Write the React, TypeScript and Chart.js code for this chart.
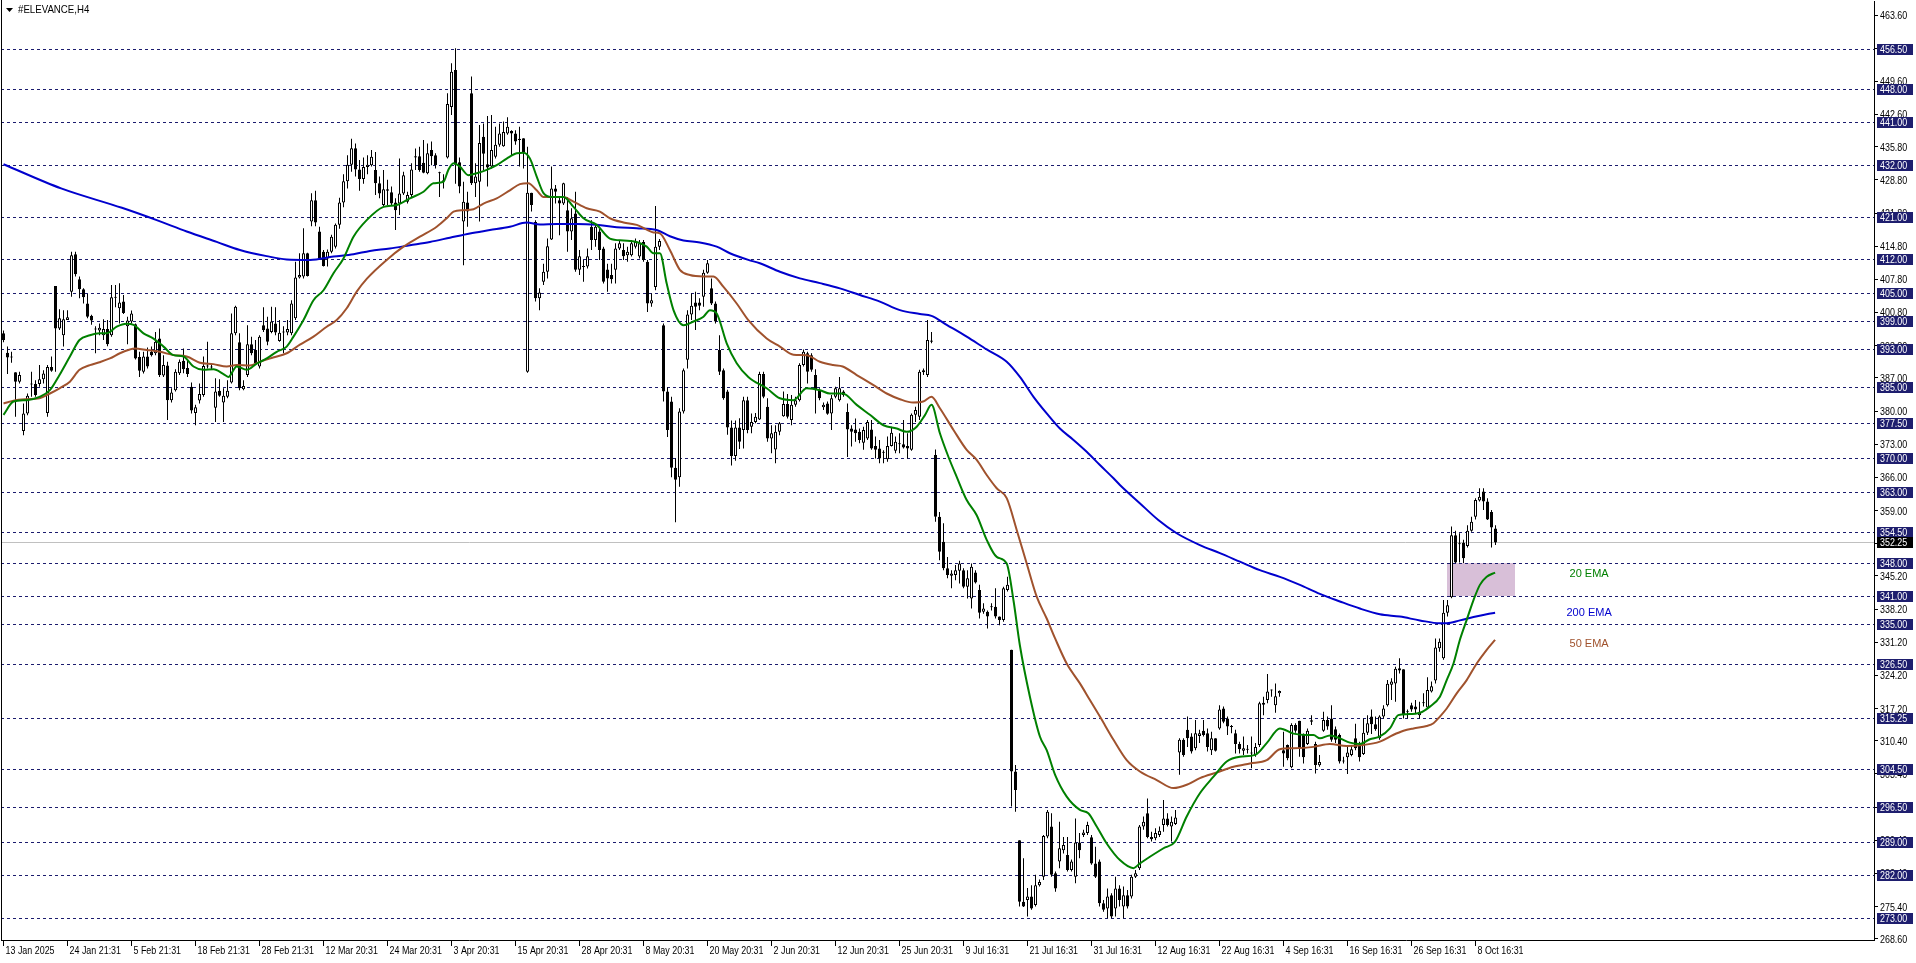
import React, { useEffect, useRef } from "react";
import { Chart, registerables } from "chart.js";

Chart.register(...registerables);

const FAMILY = '"Liberation Sans", Arial, sans-serif';

// ---------- H4 candles (bar 0 = 13 Jan 2025) ----------
const OPEN = [
  396.4, 392.3, 391.3, 388.2, 386.2, 375.8, 379.5, 385.6, 385.7, 385.7,
  386.7, 379.6, 389.3, 406.4, 397.4, 396.0, 399.2, 405.2, 413.1, 407.8,
  405.7, 402.7, 400.1, 397.2, 397.0, 396.0, 397.3, 396.0, 404.0, 401.7,
  403.1, 397.9, 398.9, 398.3, 391.4, 388.3, 391.5, 392.5, 392.2, 395.3,
  387.5, 389.6, 382.3, 384.4, 388.0, 390.6, 389.1, 385.1, 379.6, 382.2,
  383.4, 389.4, 389.2, 380.7, 384.3, 381.8, 383.0, 386.0, 396.4, 394.5,
  384.6, 387.6, 394.1, 392.9, 389.4, 398.1, 397.4, 396.7, 398.5, 394.8,
  396.6, 396.6, 396.4, 399.6, 408.2, 408.4, 413.3, 420.0, 424.5, 417.9,
  413.6, 412.2, 413.6, 414.7, 419.3, 424.0, 428.5, 432.0, 435.5, 431.0,
  429.0, 431.5, 431.9, 430.9, 428.1, 423.5, 426.8, 426.2, 424.0, 423.8,
  425.9, 424.2, 425.6, 433.8, 433.8, 432.4, 430.2, 435.1, 434.0, 430.3,
  428.5, 433.5, 444.2, 452.0, 432.5, 420.0, 424.0, 447.1, 428.1, 428.4,
  437.9, 432.1, 431.6, 433.7, 436.2, 435.9, 438.6, 439.1, 438.6, 437.5,
  437.6, 388.3, 426.1, 419.9, 403.8, 407.3, 409.4, 416.2, 427.0, 424.5,
  423.8, 422.4, 417.9, 421.7, 409.8, 410.4, 410.5, 418.9, 416.1, 417.9,
  414.3, 409.9, 408.7, 409.8, 414.3, 414.0, 412.9, 412.9, 414.7, 412.6,
  415.7, 411.5, 402.7, 406.2, 414.7, 398.1, 384.1, 382.0, 368.0, 366.0,
  379.9, 390.8, 400.4, 402.9, 402.9, 404.1, 409.2, 405.9, 402.7, 392.9,
  388.6, 384.1, 376.5, 370.5, 376.5, 376.0, 382.3, 376.7, 377.7, 378.2,
  387.8, 380.9, 374.2, 371.9, 375.6, 378.9, 381.5, 378.1, 381.3, 382.3,
  389.7, 392.2, 391.8, 387.6, 384.4, 380.8, 381.6, 379.5, 383.0, 382.3,
  384.1, 379.8, 376.3, 376.1, 375.6, 373.3, 374.2, 376.1, 372.6, 372.1,
  371.3, 369.8, 372.6, 371.6, 373.1, 373.0, 372.6, 371.8, 379.2, 378.8,
  388.2, 387.6, 394.6, 370.7, 357.7, 352.4, 346.8, 345.2, 345.4, 346.3,
  346.4, 342.9, 340.4, 345.9, 342.2, 337.6, 337.6, 338.6, 338.7, 336.6,
  335.9, 342.2, 329.6, 303.9, 289.4, 276.4, 276.8, 277.5, 275.7, 279.9,
  281.7, 290.2, 292.3, 282.4, 284.9, 287.3, 286.3, 283.1, 281.7, 288.9,
  290.5, 290.9, 290.0, 284.5, 284.9, 276.1, 275.0, 277.8, 275.0, 279.2,
  275.4, 277.8, 277.5, 281.7, 283.5, 292.3, 295.1, 290.1, 289.8, 290.5,
  292.6, 294.0, 292.3, 292.8, 307.9, 310.6, 312.7, 311.3, 308.8, 311.4,
  312.5, 312.0, 308.4, 310.9, 313.0, 317.2, 315.1, 313.4, 312.0, 309.7,
  308.3, 308.6, 307.8, 307.4, 309.5, 318.0, 319.0, 321.0, 317.9, 320.4,
  308.4, 309.5, 304.8, 313.7, 314.6, 311.6, 309.7, 314.4, 309.7, 305.2,
  312.5, 314.8, 315.1, 312.8, 311.6, 306.0, 306.9, 307.4, 310.9, 309.5,
  307.6, 312.1, 315.5, 313.9, 310.9, 315.5, 317.9, 322.2, 322.5, 325.7,
  325.5, 316.5, 317.9, 317.6, 315.8, 318.3, 317.4, 320.8, 323.1, 329.9,
  327.8, 337.4, 340.7, 353.8, 351.9, 352.2, 351.5, 354.7, 357.7, 361.1,
  363.0, 360.9, 358.7, 355.2,
];

const HIGH = [
  397.0, 393.6, 392.5, 388.2, 388.3, 381.6, 383.7, 388.3, 386.5, 389.7,
  388.6, 389.7, 391.5, 406.4, 401.5, 401.3, 401.3, 413.6, 413.6, 408.4,
  405.9, 404.7, 400.3, 397.9, 398.5, 399.4, 399.2, 406.6, 406.6, 407.0,
  404.5, 399.9, 401.2, 398.5, 392.5, 392.5, 393.4, 393.6, 396.7, 397.4,
  391.8, 390.4, 384.8, 388.8, 390.9, 393.2, 390.6, 386.0, 381.3, 385.8,
  391.5, 394.6, 390.0, 386.9, 386.7, 384.8, 386.5, 400.6, 402.2, 396.4,
  386.5, 398.1, 395.7, 395.0, 396.0, 401.9, 399.9, 402.0, 401.9, 399.2,
  397.9, 399.2, 403.4, 411.5, 413.3, 418.6, 413.4, 426.0, 426.5, 418.9,
  414.0, 414.1, 417.2, 419.6, 425.0, 430.0, 434.0, 437.5, 436.5, 433.0,
  433.5, 434.0, 435.1, 434.7, 429.5, 430.9, 428.8, 427.4, 424.9, 433.3,
  430.5, 426.3, 432.3, 435.4, 435.8, 437.2, 436.5, 436.9, 434.4, 430.5,
  430.0, 447.1, 453.4, 456.6, 433.5, 428.4, 426.3, 450.6, 432.3, 440.4,
  440.7, 442.3, 442.5, 440.0, 440.7, 441.1, 442.0, 439.3, 439.3, 440.0,
  437.6, 435.8, 426.1, 420.3, 405.9, 411.1, 416.4, 431.6, 427.7, 425.2,
  428.2, 425.2, 422.8, 426.3, 414.0, 411.9, 414.3, 420.3, 419.6, 418.9,
  414.7, 411.1, 411.1, 415.4, 416.1, 415.4, 414.7, 416.1, 416.4, 416.1,
  416.1, 411.9, 404.8, 423.3, 416.3, 398.5, 385.0, 383.0, 370.0, 380.6,
  389.0, 401.3, 404.8, 405.2, 403.8, 409.8, 411.9, 408.0, 403.1, 396.0,
  389.0, 384.5, 378.0, 378.0, 378.5, 383.0, 383.0, 379.5, 379.6, 388.3,
  388.3, 382.7, 377.0, 377.0, 377.7, 384.1, 383.6, 383.4, 383.0, 390.1,
  393.0, 392.5, 392.2, 388.8, 384.8, 381.8, 382.0, 383.4, 385.1, 387.2,
  384.4, 381.6, 377.0, 378.4, 376.3, 376.7, 378.1, 378.1, 374.6, 373.9,
  371.7, 374.6, 376.7, 374.6, 375.3, 378.1, 375.3, 379.5, 380.9, 388.7,
  389.0, 399.2, 396.7, 371.9, 358.7, 356.3, 349.2, 346.4, 347.5, 348.4,
  346.8, 346.4, 347.8, 346.4, 343.3, 339.4, 337.9, 339.4, 342.6, 336.6,
  342.9, 345.0, 329.6, 305.3, 289.4, 285.6, 279.3, 279.9, 282.1, 281.1,
  290.5, 295.8, 295.1, 282.8, 293.3, 290.1, 290.1, 285.3, 294.0, 290.9,
  291.6, 293.3, 290.5, 288.0, 285.3, 276.8, 279.2, 278.2, 281.7, 279.9,
  279.6, 278.9, 282.1, 283.1, 292.6, 294.4, 298.2, 291.2, 291.9, 292.3,
  297.9, 295.1, 294.4, 295.8, 310.9, 310.9, 315.5, 312.0, 314.8, 312.7,
  314.8, 313.0, 312.3, 310.9, 317.9, 317.6, 315.5, 313.7, 312.7, 310.2,
  311.3, 309.5, 311.3, 309.9, 318.6, 319.7, 324.5, 321.2, 322.5, 321.0,
  312.3, 309.6, 314.1, 314.1, 314.6, 311.9, 313.0, 315.8, 310.2, 307.4,
  316.5, 315.5, 317.9, 313.4, 311.9, 307.0, 309.1, 309.5, 314.0, 310.2,
  315.1, 315.8, 317.0, 315.5, 315.8, 317.9, 323.2, 323.6, 326.0, 327.8,
  325.5, 317.0, 318.4, 319.0, 318.6, 320.4, 323.8, 322.9, 332.0, 332.0,
  340.1, 340.1, 355.6, 354.7, 354.2, 352.8, 355.9, 357.7, 361.6, 363.7,
  363.7, 361.6, 359.1, 355.9,
];

const LOW = [
  394.5, 387.8, 390.2, 378.8, 385.8, 374.9, 379.1, 383.0, 383.0, 385.1,
  385.8, 378.8, 388.3, 388.3, 397.1, 393.6, 399.2, 404.1, 408.4, 403.8,
  402.7, 399.6, 398.2, 392.2, 396.0, 395.0, 393.7, 395.7, 401.9, 398.5,
  400.5, 394.1, 398.5, 390.9, 387.2, 387.9, 389.0, 391.5, 391.8, 387.2,
  387.2, 378.1, 381.8, 384.1, 387.6, 388.0, 387.2, 379.5, 377.0, 381.6,
  383.0, 389.0, 388.8, 377.7, 383.0, 377.7, 382.7, 385.8, 396.0, 384.4,
  384.4, 387.2, 391.8, 389.7, 389.0, 396.7, 393.9, 396.4, 396.0, 394.6,
  392.2, 396.0, 396.0, 399.2, 408.0, 408.0, 408.4, 419.0, 419.0, 411.9,
  410.5, 410.5, 413.3, 414.3, 418.5, 423.0, 427.0, 430.5, 429.5, 426.5,
  428.0, 430.0, 431.6, 425.6, 424.9, 423.1, 423.5, 423.5, 418.2, 421.4,
  425.6, 423.8, 425.2, 430.9, 430.5, 430.2, 430.0, 431.9, 431.2, 425.2,
  427.0, 433.3, 442.5, 428.0, 426.0, 410.8, 418.9, 427.7, 425.2, 420.0,
  430.9, 427.4, 431.2, 433.3, 435.8, 435.8, 438.3, 434.0, 436.2, 431.6,
  431.2, 388.1, 422.1, 403.1, 401.3, 406.6, 408.0, 416.1, 423.8, 417.1,
  423.5, 413.6, 416.1, 409.4, 408.7, 407.3, 410.1, 414.0, 414.7, 411.9,
  406.9, 405.2, 406.9, 406.9, 414.0, 411.9, 411.5, 412.6, 414.3, 412.2,
  411.5, 400.9, 402.0, 405.5, 414.0, 382.0, 374.5, 366.0, 356.5, 364.0,
  379.5, 389.0, 399.2, 397.1, 401.3, 402.0, 409.0, 402.4, 398.5, 387.6,
  382.4, 375.0, 368.5, 369.5, 372.0, 372.1, 375.3, 375.3, 377.4, 378.1,
  382.7, 373.5, 371.1, 369.0, 374.9, 378.8, 378.4, 377.0, 380.9, 382.0,
  389.4, 385.8, 388.3, 379.5, 382.3, 380.2, 379.2, 376.0, 382.7, 382.0,
  383.0, 370.3, 372.5, 373.5, 373.2, 371.8, 373.9, 371.8, 370.0, 369.0,
  369.0, 369.3, 372.5, 371.1, 371.1, 372.1, 370.0, 371.6, 377.7, 378.1,
  387.6, 387.2, 394.3, 356.6, 348.5, 346.4, 344.7, 342.6, 344.3, 343.6,
  342.6, 340.4, 338.3, 343.6, 336.2, 337.2, 334.1, 337.9, 336.2, 334.8,
  335.5, 341.9, 296.5, 295.4, 275.4, 275.3, 273.3, 274.7, 275.4, 279.6,
  281.0, 289.8, 281.7, 278.5, 283.5, 286.6, 282.8, 282.8, 280.3, 285.6,
  290.1, 290.5, 284.2, 281.4, 275.4, 274.3, 272.9, 272.9, 273.3, 275.4,
  272.9, 275.0, 277.1, 281.4, 283.1, 291.6, 289.8, 289.1, 289.4, 290.1,
  291.2, 292.3, 289.1, 292.6, 303.2, 307.0, 309.1, 307.7, 308.4, 309.9,
  311.3, 308.1, 307.4, 308.1, 312.7, 314.1, 311.6, 312.0, 307.7, 307.7,
  307.4, 307.7, 304.6, 307.0, 309.1, 315.8, 318.3, 319.7, 316.3, 319.7,
  304.9, 306.3, 304.6, 312.1, 307.0, 305.6, 309.5, 313.7, 303.5, 304.9,
  312.3, 312.7, 310.2, 309.9, 305.6, 305.6, 303.4, 307.1, 308.4, 306.0,
  307.4, 311.6, 311.8, 312.5, 310.6, 315.1, 317.6, 319.0, 318.6, 324.6,
  315.1, 315.1, 316.5, 316.2, 315.1, 317.6, 317.2, 320.6, 322.5, 329.2,
  327.5, 336.6, 340.5, 347.9, 348.0, 347.9, 351.2, 354.5, 357.1, 360.9,
  359.1, 357.0, 351.2, 351.7,
];

const CLOSE = [
  395.0, 391.3, 391.4, 386.2, 387.6, 379.5, 383.2, 385.7, 383.4, 386.7,
  387.9, 389.3, 388.5, 397.4, 399.6, 399.4, 399.8, 412.9, 408.9, 405.7,
  404.0, 399.9, 399.1, 397.3, 397.6, 397.3, 394.1, 404.0, 403.9, 402.9,
  400.7, 399.1, 400.6, 391.1, 388.5, 391.5, 389.4, 391.8, 394.6, 387.6,
  389.7, 382.3, 383.9, 388.3, 390.4, 388.8, 387.8, 380.1, 380.8, 383.6,
  389.5, 389.5, 389.4, 384.1, 383.2, 383.2, 384.3, 396.4, 402.0, 384.8,
  385.3, 394.1, 392.2, 390.1, 395.7, 397.1, 394.6, 398.9, 396.6, 396.5,
  396.7, 397.3, 402.7, 408.2, 408.7, 413.3, 408.5, 424.5, 419.8, 412.2,
  410.6, 413.6, 416.8, 419.3, 424.0, 428.5, 432.0, 435.5, 431.0, 429.0,
  431.5, 432.0, 433.7, 428.1, 425.9, 426.8, 426.5, 423.8, 422.4, 425.9,
  429.8, 425.6, 431.0, 433.5, 430.9, 430.3, 434.4, 433.8, 431.9, 430.2,
  428.6, 444.8, 451.6, 432.0, 427.4, 424.2, 422.1, 428.1, 429.5, 436.6,
  434.3, 431.4, 435.1, 436.2, 438.6, 438.9, 440.0, 438.6, 436.9, 437.2,
  434.7, 426.1, 423.5, 403.8, 405.0, 409.4, 414.8, 427.0, 426.3, 423.8,
  428.1, 417.9, 420.7, 409.8, 412.7, 410.6, 412.7, 416.1, 418.9, 414.0,
  407.3, 408.0, 407.8, 414.3, 415.4, 412.7, 413.6, 415.4, 415.7, 415.4,
  411.9, 402.7, 403.4, 414.7, 415.9, 384.1, 376.0, 368.0, 365.5, 379.9,
  388.6, 400.4, 402.2, 402.0, 402.2, 409.2, 411.2, 402.7, 398.9, 388.3,
  382.7, 376.5, 370.5, 376.5, 373.5, 382.3, 376.0, 377.7, 378.8, 387.8,
  383.0, 374.2, 375.3, 375.6, 377.4, 381.5, 378.8, 381.3, 382.3, 389.7,
  392.5, 388.3, 388.7, 384.4, 382.7, 381.3, 379.4, 382.7, 384.8, 384.8,
  383.4, 376.1, 375.6, 375.3, 373.9, 376.0, 377.7, 372.1, 371.8, 370.0,
  371.2, 372.6, 375.4, 373.5, 373.0, 372.3, 372.1, 379.2, 380.2, 388.3,
  388.6, 395.0, 394.9, 357.7, 350.3, 346.8, 345.4, 345.7, 346.4, 347.8,
  342.9, 344.7, 347.1, 343.8, 337.4, 338.3, 336.6, 338.7, 336.6, 335.9,
  342.6, 343.3, 303.9, 300.0, 276.4, 275.4, 277.5, 275.0, 279.9, 280.6,
  290.3, 295.4, 282.1, 279.2, 287.7, 288.4, 283.1, 284.9, 288.9, 287.3,
  291.0, 292.6, 284.5, 281.7, 276.1, 274.7, 277.5, 273.3, 279.2, 276.8,
  277.8, 275.4, 281.7, 282.4, 292.3, 293.3, 290.1, 289.6, 290.9, 291.4,
  294.0, 292.6, 293.3, 294.2, 310.6, 307.4, 310.9, 308.1, 312.0, 312.0,
  311.6, 309.1, 310.9, 308.3, 317.0, 314.4, 313.4, 313.3, 309.7, 308.6,
  308.8, 308.5, 307.7, 309.1, 318.3, 318.4, 320.8, 321.1, 319.8, 320.9,
  307.7, 306.7, 313.7, 312.5, 308.8, 306.9, 312.5, 314.7, 305.3, 305.9,
  314.8, 313.4, 310.6, 310.6, 306.0, 306.1, 307.9, 308.6, 308.8, 306.9,
  312.1, 314.1, 313.9, 312.8, 315.5, 317.2, 322.4, 322.9, 325.6, 325.2,
  315.8, 316.4, 317.0, 317.0, 316.5, 318.4, 321.1, 321.9, 330.1, 331.3,
  337.4, 339.0, 353.8, 348.0, 352.0, 348.9, 354.7, 356.6, 361.2, 361.9,
  360.9, 357.1, 355.4, 352.25,
];

// ---------- moving averages (bar position, price) ----------
const EMA20_AT = [0, 2.5, 5.8, 9, 11.6, 14, 16.6, 19, 21.6, 24, 25.8, 28.3, 30.8, 32.5, 35, 37.5, 40, 42.5, 45, 47.5, 50, 52.5, 55, 56.2, 58.3, 60.8, 63.3, 65.8, 68.3, 70.8, 72.5, 75, 77.5, 80, 82.5, 85, 87.5, 90.8, 95, 98.3, 101.6, 105, 107.5, 110, 111.2, 112.5, 114.1, 116.2, 118.3, 120.8, 123.3, 125.8, 128.3, 130, 131.6, 133.3, 135, 137, 140, 142.5, 145, 148.3, 151.6, 155, 158.3, 160.8, 162.5, 164.1, 165.8, 167.5, 170, 172.5, 175, 176.6, 178.3, 180.8, 183.3, 186.2, 190.8, 194.1, 197.5, 200.8, 204.1, 206.6, 209.8, 213.3, 216.6, 220, 223.3, 225.8, 228.3, 230.4, 232, 234.1, 236.2, 238.3, 240.8, 243.3, 245.8, 248.3, 250.8, 252.5, 254.1, 256.6, 259.1, 260.8, 262.9, 265.8, 269.1, 271.2, 273.3, 275.8, 279.1, 282.5, 284.1, 286.6, 290, 292.9, 295.8, 299.1, 302.5, 305.8, 309.1, 312.9, 315.8, 319.1, 322.5, 325.8, 327.5, 329.1, 331.6, 334.1, 336.6, 339.1, 341.6, 344.1, 346.6, 348.7, 350.8, 354.1, 356.6, 359.1, 360.8, 362.5, 364.1, 365.8, 367.5, 369.1, 370.8, 372.9];
const EMA20 = [379.2, 382.0, 382.3, 383.0, 384.4, 387.6, 391.5, 395.0, 396.0, 396.4, 396.4, 397.8, 398.4, 398.2, 396.4, 395.3, 393.6, 391.8, 391.5, 389.4, 388.7, 388.8, 387.8, 387.2, 389.4, 388.7, 390.0, 391.1, 392.5, 393.6, 395.7, 399.2, 403.4, 405.5, 409.1, 412.2, 416.8, 420.3, 423.1, 423.5, 424.9, 426.3, 428.1, 428.4, 430.9, 432.3, 431.6, 429.8, 430.2, 430.9, 431.9, 433.3, 434.4, 434.5, 433.3, 429.5, 426.0, 425.2, 425.2, 423.1, 420.7, 419.3, 416.4, 416.0, 415.7, 414.7, 413.3, 413.3, 406.9, 401.3, 398.1, 398.9, 399.9, 401.3, 400.6, 394.3, 390.1, 387.2, 384.8, 382.7, 382.3, 384.8, 384.4, 383.7, 383.7, 381.3, 379.2, 377.0, 376.3, 375.6, 376.7, 379.2, 381.3, 375.3, 370.4, 366.1, 361.2, 358.0, 352.8, 349.2, 347.8, 340.0, 330.5, 319.7, 311.3, 308.4, 303.2, 298.6, 295.8, 295.1, 292.3, 288.7, 285.2, 283.5, 284.5, 285.9, 287.7, 289.1, 294.4, 299.3, 302.8, 306.0, 307.0, 307.4, 309.9, 313.0, 311.9, 311.6, 311.6, 310.9, 311.5, 310.9, 310.0, 309.7, 310.7, 311.3, 313.0, 315.8, 316.0, 316.3, 317.6, 319.7, 323.2, 326.7, 331.7, 335.9, 340.1, 343.3, 345.0, 345.9];

const EMA50_AT = [0, 2.5, 5.8, 9, 11.6, 14, 16.6, 19, 21.6, 24, 26.6, 29.1, 31.6, 32.8, 35.8, 39.1, 42.5, 45.8, 49.1, 52.5, 55.8, 58.3, 61.6, 64.1, 67.4, 70.8, 74.1, 77.5, 80.8, 83.3, 85.8, 88.3, 90.8, 95.8, 100, 104.1, 108.3, 110.8, 112.5, 115, 117.5, 120, 123.3, 126.6, 129.1, 131.2, 133.3, 135, 137.5, 140, 142.5, 145.8, 149.1, 151.6, 155, 158.3, 160.8, 162.5, 164.1, 166.6, 169.1, 171.6, 175, 177.5, 180, 183.3, 186.2, 190.8, 194.1, 197.5, 200.8, 204.1, 207.4, 209.8, 213.3, 217.4, 220.8, 224.1, 227.4, 229.9, 232, 234.1, 237.5, 240.8, 243.3, 245.8, 248.3, 250.8, 253.3, 255.8, 258.3, 260.8, 262.9, 265.8, 269.1, 271.6, 274.1, 277.5, 280.8, 284.1, 288.3, 292.5, 295.8, 299.1, 303.3, 307.5, 311.6, 315.8, 319.1, 322.5, 327.5, 331.6, 335.8, 339.9, 344.1, 347.4, 350, 352.5, 355.8, 357.5, 359.1, 360.8, 363.3, 365.8, 368.3, 370.8, 372.9];
const EMA50 = [381.6, 382.2, 382.5, 382.7, 383.7, 384.8, 386.2, 388.7, 389.7, 390.3, 391.1, 392.2, 393.0, 393.2, 392.9, 392.5, 391.8, 391.5, 390.2, 389.9, 389.4, 389.7, 389.6, 390.4, 391.3, 392.2, 394.0, 395.7, 397.8, 399.2, 401.7, 405.2, 407.9, 411.9, 414.7, 416.8, 418.9, 420.7, 422.1, 422.4, 422.6, 423.8, 424.9, 426.6, 427.9, 428.1, 426.6, 425.2, 425.2, 425.2, 424.2, 422.8, 422.1, 420.7, 419.8, 419.3, 418.3, 417.7, 417.5, 414.0, 409.8, 408.7, 408.4, 408.4, 406.2, 402.7, 399.2, 395.3, 393.6, 391.9, 391.8, 390.4, 389.7, 389.4, 387.6, 385.5, 383.7, 382.5, 381.8, 382.0, 383.0, 380.6, 376.0, 371.8, 369.7, 366.5, 363.7, 361.6, 354.9, 347.8, 340.8, 336.2, 332.0, 326.7, 322.5, 319.0, 315.5, 310.6, 306.3, 303.9, 302.1, 300.4, 301.1, 302.5, 303.7, 304.9, 305.6, 306.3, 308.6, 308.8, 309.1, 309.7, 309.3, 309.5, 310.2, 311.6, 312.5, 313.0, 313.5, 314.1, 315.5, 317.2, 320.4, 323.2, 326.7, 329.6, 331.7];

const EMA200_AT = [0, 14.4, 29.6, 38.3, 45.8, 53.3, 59.1, 65.8, 70.8, 76.6, 82.5, 87.5, 91.6, 96.6, 101.6, 106.6, 111.6, 116.6, 121.6, 126.6, 130.8, 134.1, 138.3, 143.3, 148.3, 153.3, 158.3, 163.3, 166.6, 170, 174.1, 178.3, 181.6, 186.2, 189.1, 194.1, 199.1, 204.1, 209.1, 214.1, 219.1, 224.1, 229.1, 232, 235.8, 240.8, 245.8, 250.8, 254.1, 257.5, 260.8, 264.1, 267.5, 270.8, 274.1, 277.5, 279.1, 284, 288.7, 293.3, 299.1, 304.1, 309.1, 314.1, 319.1, 324.1, 329.1, 334.1, 339.1, 344.1, 349.1, 354.1, 359.1, 360.8, 364.1, 367.5, 370.8, 372.9];
const EMA200 = [432.1, 427.0, 422.9, 420.3, 417.9, 415.7, 414.0, 412.7, 412.0, 411.9, 412.6, 413.1, 413.8, 414.3, 415.0, 415.7, 416.6, 417.5, 418.2, 418.9, 419.8, 419.4, 419.5, 419.5, 419.3, 418.8, 418.6, 418.2, 416.9, 416.0, 415.6, 414.7, 413.3, 411.9, 411.2, 409.4, 408.0, 407.0, 405.9, 404.5, 403.1, 401.3, 400.5, 400.1, 398.2, 395.7, 393.0, 390.4, 387.2, 383.0, 379.5, 376.3, 373.9, 371.4, 368.6, 365.8, 364.4, 360.6, 357.0, 354.2, 351.7, 350.0, 348.2, 346.4, 345.0, 343.3, 341.4, 339.8, 338.3, 337.1, 336.6, 335.8, 335.2, 335.2, 335.8, 336.5, 337.1, 337.4];

// ---------- horizontal levels, zone, axis text ----------
const LEVELS = [456.5, 448.0, 441.0, 432.0, 421.0, 412.0, 405.0, 399.0, 393.0, 385.0, 377.5, 370.0, 363.0, 354.5, 348.0, 341.0, 335.0, 326.5, 315.25, 304.5, 296.5, 289.0, 282.0, 273.0];
const LAST_PRICE = 352.25;
const ZONE = { fromBar: 360.8, toBar: 377.9, top: 348.0, bottom: 341.0 };
const EMA_LABELS = [
  { text: "20 EMA", bar: 396.4, price: 345.6, color: "#008000" },
  { text: "200 EMA", bar: 396.4, price: 337.4, color: "#0000CD" },
  { text: "50 EMA", bar: 396.4, price: 330.8, color: "#A0522D" },
];
const Y_TICKS = [463.6, 456.6, 449.6, 442.6, 435.8, 428.8, 421.8, 414.8, 407.8, 400.8, 393.8, 387.0, 380.0, 373.0, 366.0, 359.0, 352.0, 345.2, 338.2, 331.2, 324.2, 317.2, 310.4, 303.4, 296.4, 289.4, 282.4, 275.4, 268.6];
const X_LABEL_BARS = [0, 16, 32, 48, 64, 80, 96, 112, 128, 144, 160, 176, 192, 208, 224, 240, 256, 272, 288, 304, 320, 336, 352, 368];
const X_LABELS = ["13 Jan 2025", "24 Jan 21:31", "5 Feb 21:31", "18 Feb 21:31", "28 Feb 21:31", "12 Mar 20:31", "24 Mar 20:31", "3 Apr 20:31", "15 Apr 20:31", "28 Apr 20:31", "8 May 20:31", "20 May 20:31", "2 Jun 20:31", "12 Jun 20:31", "25 Jun 20:31", "9 Jul 16:31", "21 Jul 16:31", "31 Jul 16:31", "12 Aug 16:31", "22 Aug 16:31", "4 Sep 16:31", "16 Sep 16:31", "26 Sep 16:31", "8 Oct 16:31"];
const TITLE = "#ELEVANCE,H4";

// view window
const X_MIN = -0.625;
const X_MAX = 467.625;
const Y_MIN = 268.33;
const Y_MAX = 466.56;

const LEVEL_COLOR = "#1c1c6e";
const BOX_COLOR = "#1e1e6e";
const NARROW = 0.81;

const BAR_INDEX = OPEN.map((_, i) => i);

function narrowText(ctx: CanvasRenderingContext2D, text: string, x: number, y: number, sx: number) {
  ctx.save();
  ctx.translate(x, y);
  ctx.scale(sx, 1);
  ctx.textAlign = "left";
  ctx.textBaseline = "middle";
  ctx.fillText(text, 0, 0);
  ctx.restore();
}

const overlayPlugin = {
  id: "mtOverlay",
  beforeDatasetsDraw(chart: any) {
    const { ctx, chartArea, scales } = chart;
    const xs = scales.x;
    const ys = scales.y;
    ctx.save();
    const zx0 = Math.round(xs.getPixelForValue(ZONE.fromBar));
    const zx1 = Math.round(xs.getPixelForValue(ZONE.toBar));
    const zy0 = Math.round(ys.getPixelForValue(ZONE.top));
    const zy1 = Math.round(ys.getPixelForValue(ZONE.bottom));
    ctx.fillStyle = "#d8bfd8";
    ctx.fillRect(zx0, zy0, zx1 - zx0, zy1 - zy0);
    ctx.strokeStyle = "#c0c0c0";
    ctx.lineWidth = 1;
    const cp = Math.round(ys.getPixelForValue(LAST_PRICE)) + 0.5;
    ctx.beginPath();
    ctx.moveTo(chartArea.left, cp);
    ctx.lineTo(chartArea.right, cp);
    ctx.stroke();
    ctx.strokeStyle = LEVEL_COLOR;
    ctx.setLineDash([3, 3]);
    LEVELS.forEach((lv) => {
      const py = Math.round(ys.getPixelForValue(lv)) + 0.5;
      ctx.beginPath();
      ctx.moveTo(chartArea.left, py);
      ctx.lineTo(chartArea.right, py);
      ctx.stroke();
    });
    ctx.restore();
  },
  afterDraw(chart: any) {
    const { ctx, chartArea, scales } = chart;
    const xs = scales.x;
    const ys = scales.y;
    ctx.save();
    ctx.font = `11px ${FAMILY}`;
    ctx.fillStyle = "#000";

    // price-axis labels
    Y_TICKS.forEach((v) => {
      narrowText(ctx, v.toFixed(2), chartArea.right + 6, Math.round(ys.getPixelForValue(v)) + 0.5, NARROW);
    });
    // time-axis labels
    X_LABEL_BARS.forEach((b, k) => {
      narrowText(ctx, X_LABELS[k], Math.round(xs.getPixelForValue(b)) + 1.5, chartArea.bottom + 11, NARROW);
    });

    // level boxes
    const boxX = chartArea.right + 3;
    const drawBox = (price: number, fill: string) => {
      const cy = Math.round(ys.getPixelForValue(price));
      ctx.fillStyle = fill;
      ctx.fillRect(boxX, cy - 5, 36, 11);
      ctx.fillStyle = "#ffffff";
      narrowText(ctx, price.toFixed(2), chartArea.right + 6, cy + 0.5, NARROW);
    };
    LEVELS.forEach((lv) => drawBox(lv, BOX_COLOR));
    drawBox(LAST_PRICE, "#000000");

    // EMA labels
    ctx.textBaseline = "middle";
    ctx.textAlign = "center";
    EMA_LABELS.forEach((l) => {
      ctx.fillStyle = l.color;
      ctx.fillText(l.text, xs.getPixelForValue(l.bar), ys.getPixelForValue(l.price));
    });

    // title
    ctx.fillStyle = "#000";
    ctx.beginPath();
    ctx.moveTo(6, 8);
    ctx.lineTo(13, 8);
    ctx.lineTo(9.5, 12);
    ctx.closePath();
    ctx.fill();
    narrowText(ctx, TITLE, 18, 10, 0.88);

    // left frame line
    ctx.fillRect(1, 0, 1, Math.round(chartArea.bottom) + 1);
    ctx.restore();
  },
};

export default function App() {
  const ref = useRef<HTMLCanvasElement>(null);
  useEffect(() => {
    document.body.style.margin = "0";
    document.body.style.background = "#ffffff";
    const canvas = ref.current!;
    const lineDs = (label: string, at: number[], vals: number[], color: string) =>
      ({
        type: "line",
        label,
        data: at.map((b, k) => ({ x: b, y: vals[k] })),
        borderColor: color,
        borderWidth: 2,
        pointRadius: 0,
        fill: false,
        cubicInterpolationMode: "monotone",
        order: 1,
      }) as any;
    const chart = new Chart(canvas, {
      type: "bar",
      data: {
        datasets: [
          lineDs("EMA 20", EMA20_AT, EMA20, "#008000"),
          lineDs("EMA 50", EMA50_AT, EMA50, "#A0522D"),
          lineDs("EMA 200", EMA200_AT, EMA200, "#0000CD"),
          {
            type: "bar",
            label: "body",
            data: BAR_INDEX.map((i) => ({ x: i, y: [OPEN[i], CLOSE[i]] })),
            backgroundColor: BAR_INDEX.map((i) => (CLOSE[i] >= OPEN[i] ? "#ffffff" : "#000000")),
            borderColor: "#000000",
            borderWidth: 1,
            borderSkipped: false,
            barThickness: 3,
            minBarLength: 1,
            grouped: false,
            inflateAmount: 0,
            order: 2,
          } as any,
          {
            type: "bar",
            label: "wick",
            data: BAR_INDEX.map((i) => ({ x: i, y: [LOW[i], HIGH[i]] })),
            backgroundColor: "#000000",
            borderWidth: 0,
            barThickness: 1,
            grouped: false,
            inflateAmount: 0,
            order: 3,
          } as any,
        ],
      },
      options: {
        responsive: false,
        animation: false,
        devicePixelRatio: 1,
        events: [],
        layout: { padding: { left: 1, top: 1, right: 0, bottom: 0 } },
        plugins: { legend: { display: false }, tooltip: { enabled: false }, title: { display: false } },
        scales: {
          x: {
            type: "linear",
            min: X_MIN,
            max: X_MAX,
            offset: false,
            grid: { display: true, drawOnChartArea: false, drawTicks: true, tickLength: 6, color: "#000", offset: false },
            border: { display: true, color: "#000" },
            ticks: { display: false },
            afterBuildTicks: (s: any) => {
              s.ticks = X_LABEL_BARS.map((v) => ({ value: v }));
            },
            afterFit: (s: any) => {
              s.height = 23;
              s.paddingLeft = 0;
              s.paddingRight = 0;
            },
          },
          y: {
            type: "linear",
            position: "right",
            min: Y_MIN,
            max: Y_MAX,
            grid: { display: true, drawOnChartArea: false, drawTicks: true, tickLength: 4, color: "#000" },
            border: { display: true, color: "#000" },
            ticks: { display: false },
            afterBuildTicks: (s: any) => {
              s.ticks = Y_TICKS.map((v) => ({ value: v }));
            },
            afterFit: (s: any) => {
              s.width = 42;
              s.paddingTop = 0;
              s.paddingBottom = 0;
            },
          },
        },
      } as any,
      plugins: [overlayPlugin],
    });
    return () => chart.destroy();
  }, []);
  return (
    <div style={{ width: 1916, height: 963, overflow: "hidden" }}>
      <canvas ref={ref} width={1916} height={963} style={{ display: "block" }} />
    </div>
  );
}
